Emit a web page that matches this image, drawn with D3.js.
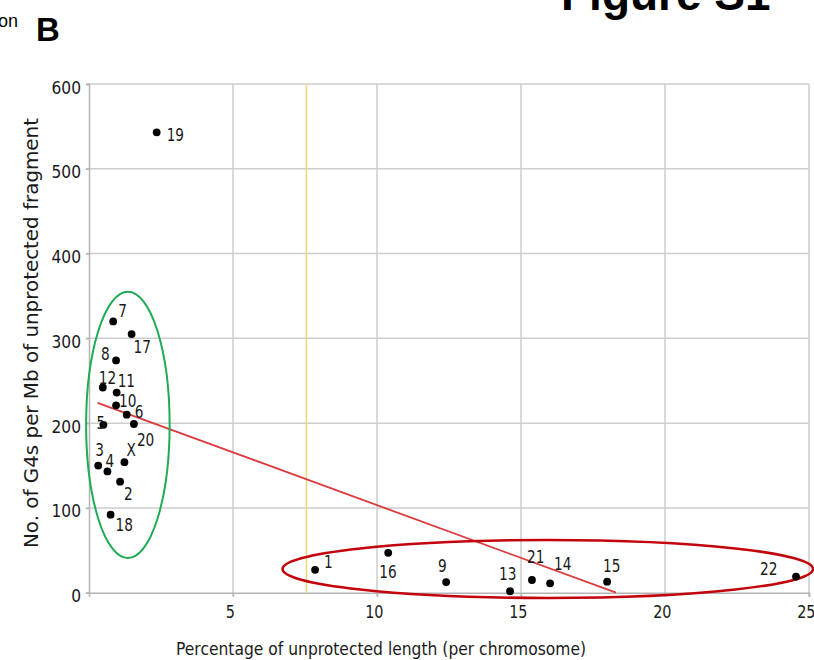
<!DOCTYPE html>
<html>
<head>
<meta charset="utf-8">
<script src="https://cdn.jsdelivr.net/npm/d3@7"></script>
<style>
  html, body { margin: 0; padding: 0; background: #fff; }
  svg { display: block; }
</style>
</head>
<body>
<div class="chart"></div>
<script>
// Data
const chromosomes = ['1', '2', '3', '4', '5', '6', '7', '8', '9', '10', '11', '12',
  '13', '14', '15', '16', '17', '18', '19', '20', '21', '22', 'X'];
const pctUnprotected = [7.85, 1.08, 0.32, 0.64, 0.50, 1.31, 0.84, 0.94, 12.40, 0.94, 0.96, 0.48,
  14.62, 16.01, 17.99, 10.39, 1.48, 0.75, 2.35, 1.56, 15.38, 24.55, 1.23];
const g4PerMb = [27, 131, 150, 143, 198, 210, 320, 274, 12.5, 221, 236, 242,
  1.7, 11, 13, 47, 305, 92, 543, 199, 15, 19, 154];
const xTicks = [5, 10, 15, 20, 25];
const yTicks = [0, 100, 200, 300, 400, 500, 600];
const thresholdX = 7.55;
const trendX = [0.3, 18.3];
const trendY = [224, 0];
// cluster annotations: centre x, centre y, half width (x units), half height (y units)
const clusterLow = [1.35, 198, 1.45, 157];
const clusterHigh = [15.93, 28, 9.21, 34.2];

// Layout
const width = 814;
const height = 660;
const plotLeft = 89;
const plotRight = 809;
const plotTop = 84;
const plotBottom = 592.7;
const font = 'DejaVu Sans, sans-serif';
const ink = '#1a1a1a';

// Colors
const gridGrey = '#cdcdcd';
const axisGrey = '#b4b4b4';
const yellow = '#f3d67a';
const trendRed = '#db3a3f';
const ringRed = '#c3040c';
const ringGreen = '#1faa56';

// label offsets [dx, dy] from the dot to text start / baseline
const labelOffset = {
  '1': [9, -2], '2': [4, 18], '3': [-3, -10], '4': [-2, -4], '5': [-7, 4], '6': [8, 3],
  '7': [5, -4], '8': [-15, 0], '9': [-8, -10], '10': [3, 2], '11': [1, -6], '12': [-4, -4],
  '13': [-11, -11], '14': [4, -13], '15': [-4, -10], '16': [-9, 25], '17': [2, 19],
  '18': [5, 16], '19': [10, 9], '20': [3, 22], '21': [-5, -17], '22': [-36, -2], 'X': [2, -6]
};

const points = chromosomes.map((c, i) => ({name: c, x: pctUnprotected[i], y: g4PerMb[i]}));

// Scales
const x = d3.scaleLinear().domain([0, 25]).range([plotLeft, plotRight]);
const y = d3.scaleLinear().domain([0, 600]).range([plotBottom, plotTop]);

const svg = d3.select('.chart').append('svg')
  .attr('width', width)
  .attr('height', height)
  .style('background-color', '#fff');

// Page fragments around the panel
svg.append('text')
  .attr('x', 18).attr('y', 27)
  .attr('text-anchor', 'end')
  .attr('font-family', 'Liberation Sans, Arial, sans-serif')
  .attr('font-size', 18)
  .text('on');
svg.append('text')
  .attr('x', 36).attr('y', 41)
  .attr('font-family', 'Liberation Sans, Arial, sans-serif')
  .attr('font-weight', 'bold')
  .attr('font-size', 33)
  .text('B');
svg.append('text')
  .attr('x', 561).attr('y', 10)
  .attr('font-family', 'Liberation Sans, Arial, sans-serif')
  .attr('font-weight', 'bold')
  .attr('font-size', 46)
  .text('Figure S1');

// Grid
const grid = svg.append('g')
  .attr('class', 'grid')
  .attr('stroke', gridGrey)
  .attr('stroke-width', 1.5);
grid.selectAll('.gy')
  .data(yTicks.filter(d => d > 0))
  .join('line')
  .attr('class', 'gy')
  .attr('x1', plotLeft - 3).attr('x2', plotRight)
  .attr('y1', d => y(d)).attr('y2', d => y(d));
grid.selectAll('.gx')
  .data(xTicks)
  .join('line')
  .attr('class', 'gx')
  .attr('x1', d => x(d)).attr('x2', d => x(d))
  .attr('y1', plotTop).attr('y2', plotBottom + 4);

// Axes
const xAxis = svg.append('g')
  .attr('transform', `translate(0,${plotBottom})`)
  .call(d3.axisBottom(x).tickValues(xTicks).tickSize(4).tickPadding(9));
const yAxis = svg.append('g')
  .attr('transform', `translate(${plotLeft},0)`)
  .call(d3.axisLeft(y).tickValues(yTicks).tickSize(3).tickPadding(8));
[xAxis, yAxis].forEach(ax => {
  ax.select('.domain').attr('stroke', axisGrey).attr('stroke-width', 1.5);
  ax.selectAll('.tick line').attr('stroke', axisGrey).attr('stroke-width', 1.5);
  ax.selectAll('.tick text')
    .attr('fill', ink)
    .attr('font-family', font)
    .attr('font-size', 18);
});
xAxis.selectAll('.tick text')
  .attr('x', -4)
  .attr('transform', 'scale(0.8,1)');
yAxis.selectAll('.tick text')
  .attr('x', 0)
  .attr('dy', '0.5em')
  .attr('transform', 'translate(-8,0) scale(0.86,1)');

// Axis titles
svg.append('text')
  .attr('x', 381).attr('y', 655)
  .attr('text-anchor', 'middle')
  .attr('font-family', font)
  .attr('font-size', 18)
  .attr('fill', ink)
  .attr('textLength', 410)
  .attr('lengthAdjust', 'spacingAndGlyphs')
  .text('Percentage of unprotected length (per chromosome)');
svg.append('text')
  .attr('transform', 'translate(38,333) rotate(-90)')
  .attr('text-anchor', 'middle')
  .attr('font-family', font)
  .attr('font-size', 20)
  .attr('fill', ink)
  .attr('textLength', 430)
  .attr('lengthAdjust', 'spacingAndGlyphs')
  .text('No. of G4s per Mb of unprotected fragment');

// Threshold line
svg.append('line')
  .attr('x1', x(thresholdX)).attr('x2', x(thresholdX))
  .attr('y1', plotTop).attr('y2', plotBottom)
  .attr('stroke', yellow)
  .attr('stroke-width', 1.5);

// Trend line
svg.append('line')
  .attr('x1', x(trendX[0])).attr('y1', y(trendY[0]))
  .attr('x2', x(trendX[1])).attr('y2', y(trendY[1]))
  .attr('stroke', trendRed)
  .attr('stroke-width', 1.8);

// Cluster rings
const rings = [
  {c: clusterLow, color: ringGreen, w: 2},
  {c: clusterHigh, color: ringRed, w: 2.6}
];
svg.append('g')
  .attr('fill', 'none')
  .selectAll('ellipse')
  .data(rings)
  .join('ellipse')
  .attr('cx', d => x(d.c[0]))
  .attr('cy', d => y(d.c[1]))
  .attr('rx', d => x(d.c[2]) - x(0))
  .attr('ry', d => y(0) - y(d.c[3]))
  .attr('stroke', d => d.color)
  .attr('stroke-width', d => d.w);

// Dots
svg.append('g')
  .attr('fill', '#000')
  .selectAll('circle')
  .data(points)
  .join('circle')
  .attr('cx', d => x(d.x))
  .attr('cy', d => y(d.y))
  .attr('r', 3.9);

// Labels
svg.append('g')
  .attr('font-family', font)
  .attr('font-size', 18)
  .attr('fill', ink)
  .selectAll('text')
  .data(points)
  .join('text')
  .attr('transform', d => `translate(${x(d.x) + labelOffset[d.name][0]},${y(d.y) + labelOffset[d.name][1]}) scale(0.76,1)`)
  .text(d => d.name);
</script>
</body>
</html>
